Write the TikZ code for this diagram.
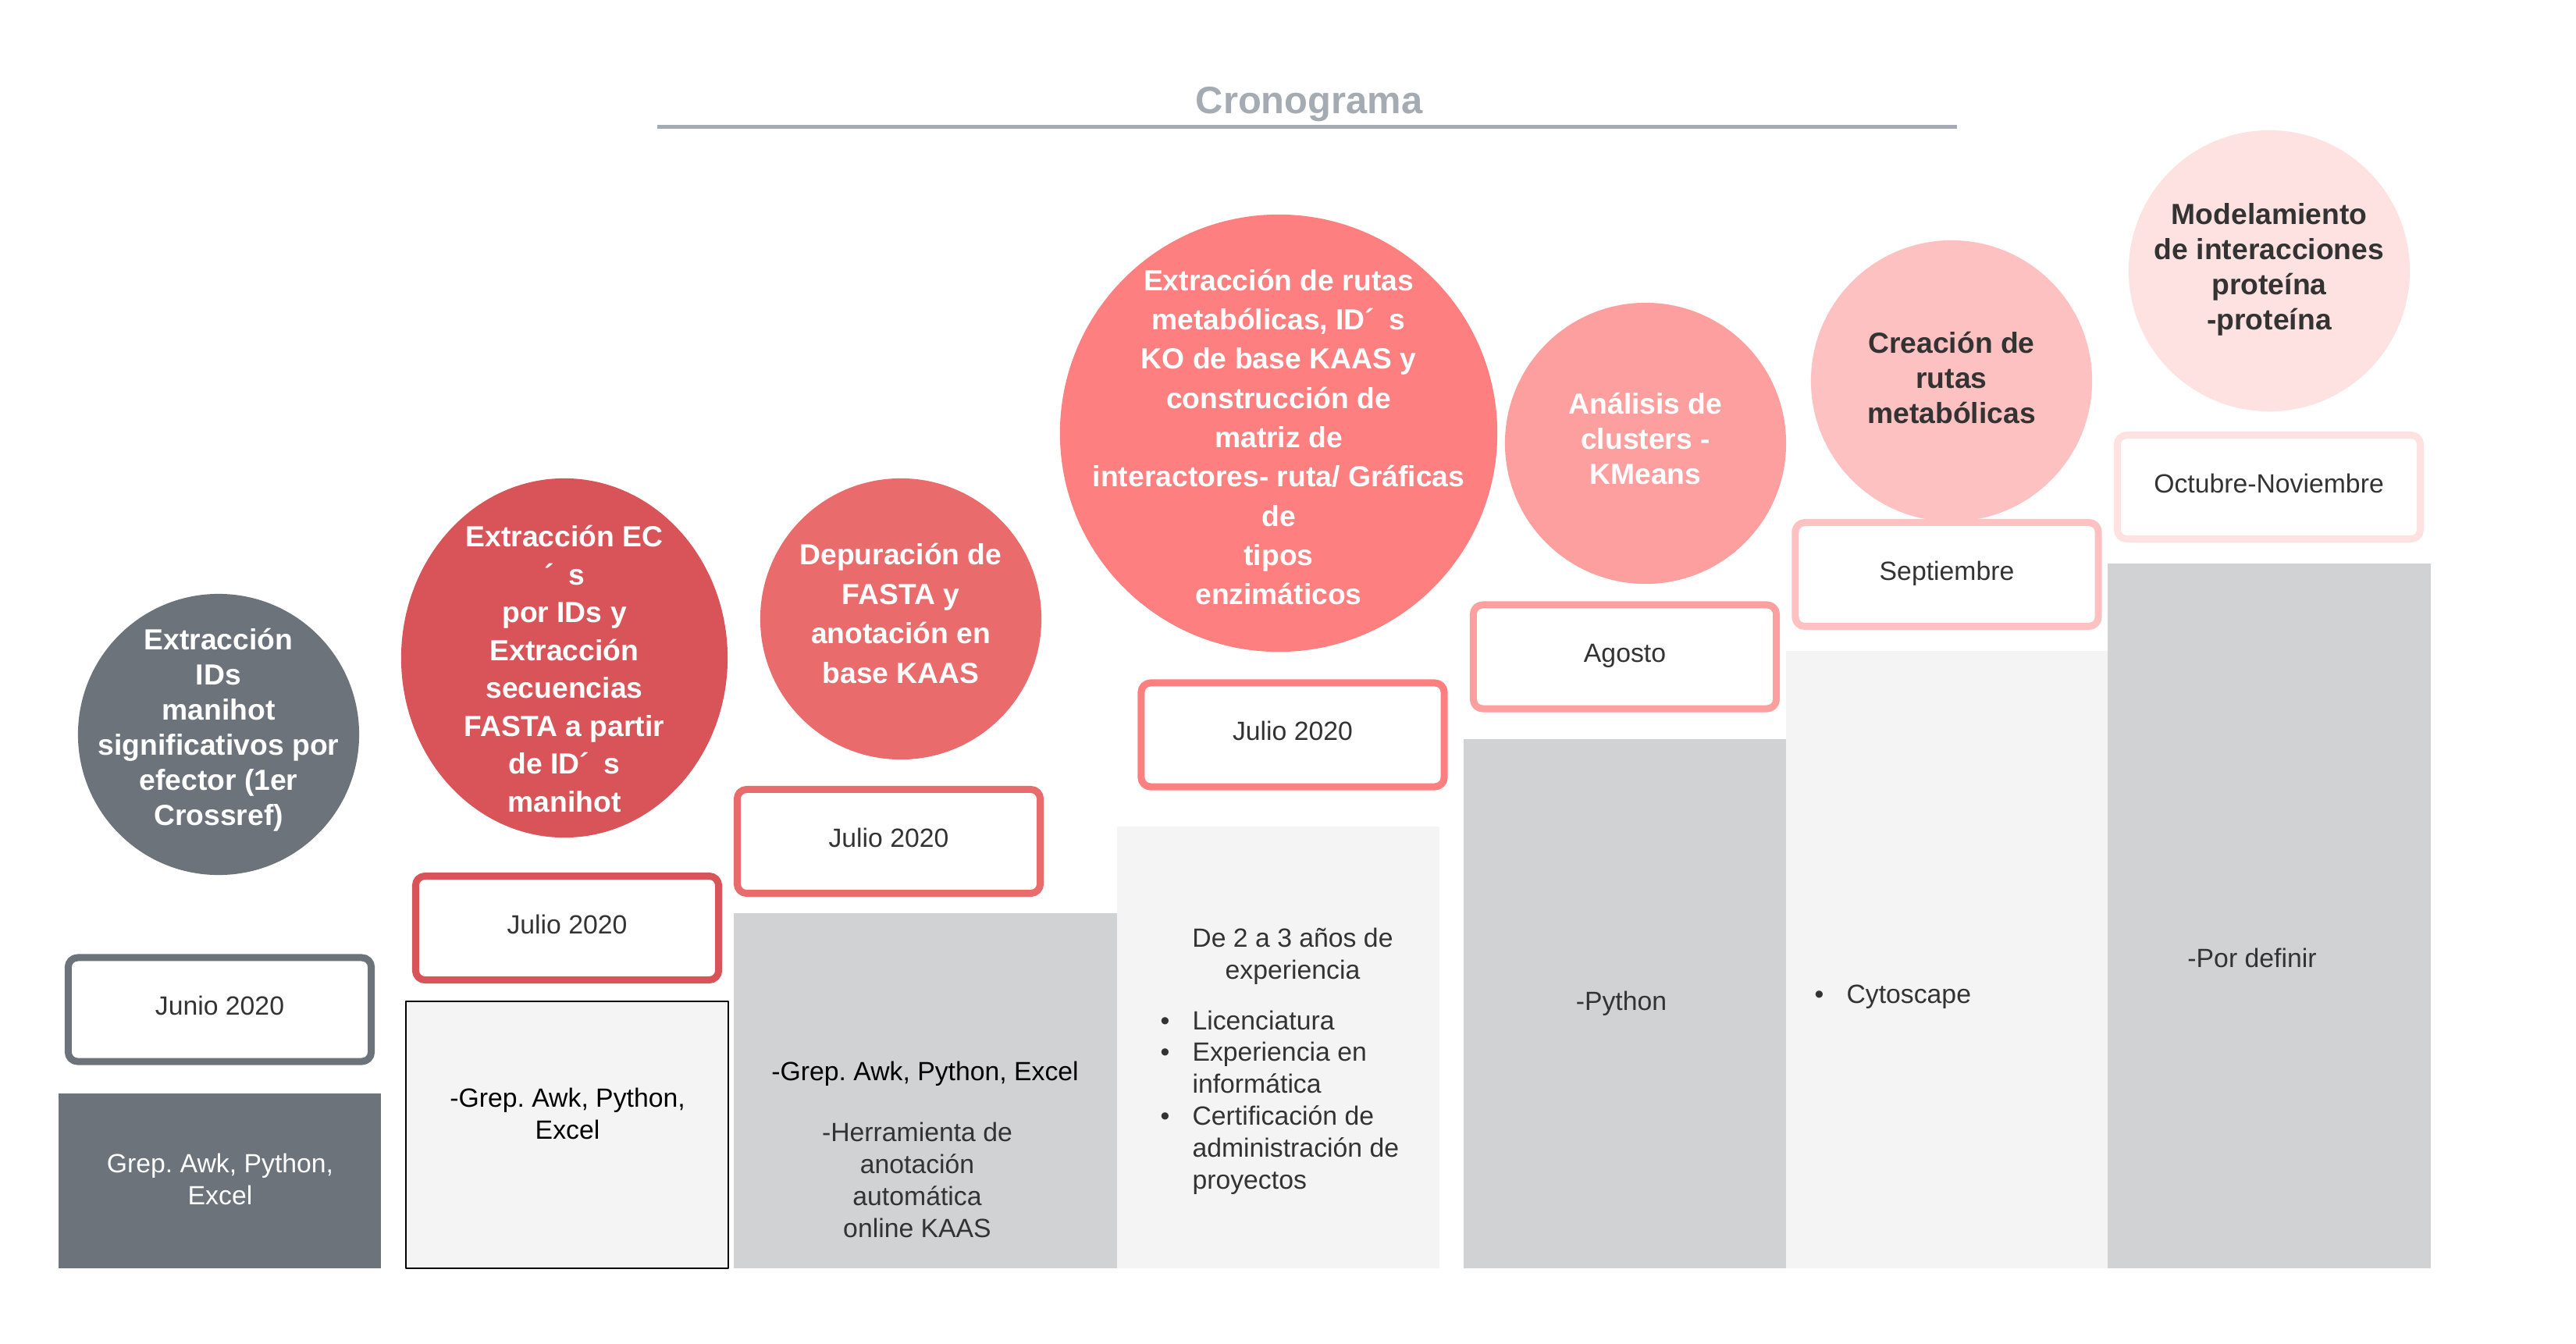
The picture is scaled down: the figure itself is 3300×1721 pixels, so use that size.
\documentclass[tikz,border=0pt]{standalone}
\usepackage{fontspec}
\setmainfont{Liberation Sans}
\frenchspacing
\usetikzlibrary{shapes.geometric}
\definecolor{slate}{HTML}{6C737B}
\definecolor{redA}{HTML}{D95459}
\definecolor{redB}{HTML}{E96B6B}
\definecolor{redC}{HTML}{FE7F7F}
\definecolor{redD}{HTML}{FE9F9F}
\definecolor{redE}{HTML}{FEC1C1}
\definecolor{redF}{HTML}{FEE1E1}
\definecolor{barlight}{HTML}{F4F4F4}
\definecolor{bargray}{HTML}{D1D2D4}
\definecolor{titlegray}{HTML}{A5ABB3}
\definecolor{txt}{HTML}{333333}
\begin{document}
\begin{tikzpicture}[x=0.01cm, y=-0.01cm, line join=round,
  bubble/.style={align=center, inner sep=0pt, text=white, font=\fontsize{10.6}{12.8}\selectfont\bfseries},
  datebox/.style={draw, rounded corners=0.12cm, line width=0.09cm, fill=white, minimum width=3.88cm, minimum height=1.33cm, text height=0.75em, text depth=0.35em, text=txt, font=\fontsize{9.6}{11.5}\selectfont},
  bartext/.style={align=center, inner sep=0pt, text=txt, font=\fontsize{9.6}{11.6}\selectfont}]
\useasboundingbox (0,0) rectangle (3300,1721);
\node[font=\fontsize{13.9}{16}\selectfont\bfseries, text=titlegray] (title) at (1677,134) {Cronograma};
\draw[titlegray, line width=0.05cm] (842,162) -- (2507,162);
\fill[slate] (75,1401) rectangle (488,1625);
\filldraw[fill=barlight, draw=black, line width=0.6pt] (520,1283) rectangle (933,1625);
\fill[bargray] (940,1170) rectangle (1431,1625);
\fill[barlight] (1431,1059) rectangle (1844,1625);
\fill[bargray] (1875,947) rectangle (2288,1625);
\fill[barlight] (2288,834) rectangle (2700,1625);
\fill[bargray] (2700,722) rectangle (3114,1625);
\fill[slate] (280,941) circle (1.8cm);
\fill[redA] (723,843) ellipse (2.09cm and 2.3cm);
\fill[redB] (1154,793) circle (1.8cm);
\fill[redC] (1638,555) circle (2.8cm);
\fill[redD] (2108,568) circle (1.8cm);
\fill[redE] (2500,488) circle (1.8cm);
\fill[redF] (2907,347) circle (1.8cm);
\node[bubble] (t1) at (280,935) {Extracción\\IDs\\manihot\\significativos por\\efector (1er\\Crossref)};
\node[bubble, font=\fontsize{10.6}{13.8}\selectfont\bfseries] (t2) at (723,857) {Extracción EC\\´\enspace s\\por IDs y\\Extracción\\secuencias\\FASTA a partir\\de ID´\enspace s\\manihot};
\node[bubble, font=\fontsize{10.6}{14.5}\selectfont\bfseries] (t3) at (1154,786) {Depuración de\\FASTA y\\anotación en\\base KAAS};
\node[bubble, font=\fontsize{10.6}{14.3}\selectfont\bfseries] (t4) at (1638,560) {Extracción de rutas\\metabólicas, ID´\enspace s\\KO de base KAAS y\\construcción de\\matriz de\\interactores- ruta/ Gráficas\\de\\tipos\\enzimáticos};
\node[bubble] (t5) at (2108,562) {Análisis de\\clusters -\\KMeans};
\node[bubble, text=txt] (t6) at (2500,484) {Creación de\\rutas\\metabólicas};
\node[bubble, text=txt] (t7) at (2907,345) {Modelamiento\\de interacciones\\proteína\\-proteína};
\node[datebox, draw=slate] (d1) at (281.5,1293.5) {Junio 2020};
\node[datebox, draw=redA] (d2) at (726.5,1189) {Julio 2020};
\node[datebox, draw=redB] (d3) at (1138.5,1078) {Julio 2020};
\node[datebox, draw=redC] (d4) at (1656,941.5) {Julio 2020};
\node[datebox, draw=redD] (d5) at (2081.5,841.5) {Agosto};
\node[datebox, draw=redE] (d6) at (2494,736) {Septiembre};
\node[datebox, draw=redF] (d7) at (2906.5,624) {Octubre-Noviembre};
\node[bartext, text=white] (b1) at (282,1511) {Grep. Awk, Python,\\Excel};
\node[bartext, text=black] (b2) at (727,1427) {-Grep. Awk, Python,\\Excel};
\node[bartext, text=black] (b3) at (1185,1376) {-Grep. Awk, Python, Excel};
\node[bartext] (b3b) at (1175,1512) {-Herramienta de\\anotación\\automática\\online KAAS};
\node[bartext] (b4) at (1656,1225) {De 2 a 3 años de\\experiencia};
\node[bartext, anchor=west, align=left] (b4b) at (1486,1413) {\begin{tabular}{@{}l@{\hspace{0.29cm}}l@{}}
\textbullet & Licenciatura\\
\textbullet & Experiencia en\\
 & informática\\
\textbullet & Certificación de\\
 & administración de\\
 & proyectos
\end{tabular}};
\node[bartext] (b5) at (2077,1286) {-Python};
\node[bartext, anchor=west] (b6) at (2324,1277) {\textbullet\hspace{0.29cm}Cytoscape};
\node[bartext] (b7) at (2885,1227) {-Por definir};
\end{tikzpicture}
\end{document}
